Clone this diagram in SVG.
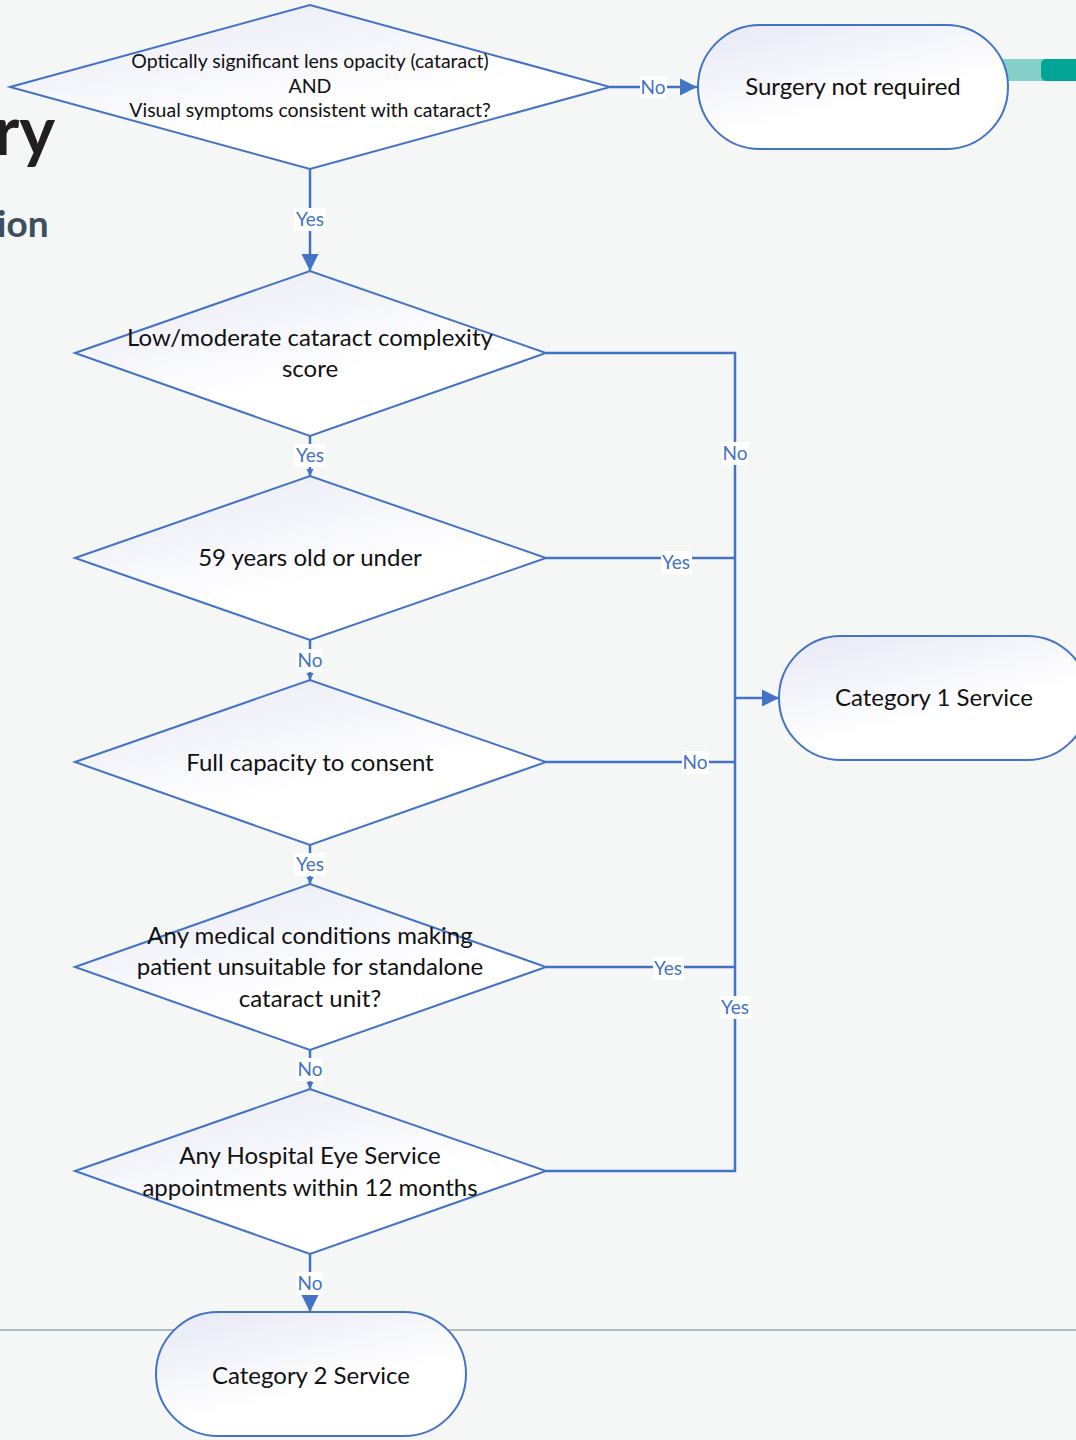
<svg xmlns="http://www.w3.org/2000/svg" width="1076" height="1440" viewBox="0 0 1076 1440">
<style>
.bg{fill:#f5f6f6}
.shape{fill:url(#g);stroke:#4472c4;stroke-width:2}
.t{font-family:Lato,"Liberation Sans",sans-serif;font-size:24px;fill:#111;text-anchor:middle}
.ts{font-family:Lato,"Liberation Sans",sans-serif;font-size:19.5px;fill:#111;text-anchor:middle}
.c{fill:none;stroke:#4472c4;stroke-width:2.5}
.lb{fill:#fff}
.lt{font-family:Lato,"Liberation Sans",sans-serif;font-size:19px;fill:#4472c4;text-anchor:middle}
</style>
<defs>
<linearGradient id="g" x1="0" y1="0" x2="0.6" y2="1">
<stop offset="0" stop-color="#e6e8f5"/>
<stop offset="0.7" stop-color="#ffffff"/>
</linearGradient>
<marker id="ab" viewBox="0 0 10 10" refX="10" refY="5" markerWidth="7" markerHeight="7" orient="auto" markerUnits="strokeWidth">
<path d="M0,0 L10,5 L0,10 z" fill="#4472c4"/>
</marker>
<marker id="as" viewBox="0 0 10 10" refX="10" refY="5" markerWidth="3" markerHeight="3.4" orient="auto" markerUnits="strokeWidth">
<path d="M0,0 L10,5 L0,10 z" fill="#4472c4"/>
</marker>
</defs>
<rect class="bg" x="0" y="0" width="1076" height="1440"/>
<line x1="0" y1="1330" x2="1076" y2="1330" stroke="#9aa6af" stroke-width="1.5"/>
<rect x="1000" y="59" width="50" height="22" fill="#85d1c9"/>
<rect x="1041" y="59" width="45" height="22" rx="5" fill="#00a596"/>
<text x="-6" y="155" font-family="Lato,'Liberation Sans',sans-serif" font-weight="bold" font-size="68" fill="#231f20">ry</text>
<text x="-3" y="237" font-family="Lato,'Liberation Sans',sans-serif" font-weight="bold" font-size="37" fill="#3d4f5c">ion</text>

<g id="connectors">
<path class="c" d="M610,87 H697" marker-end="url(#ab)"/>
<path class="c" d="M310,169 V271" marker-end="url(#ab)"/>
<path class="c" d="M310,436 V476" marker-end="url(#as)"/>
<path class="c" d="M310,640 V680" marker-end="url(#as)"/>
<path class="c" d="M310,845 V884" marker-end="url(#as)"/>
<path class="c" d="M310,1050 V1089" marker-end="url(#as)"/>
<path class="c" d="M310,1254 V1312" marker-end="url(#ab)"/>
<path class="c" d="M546,353 H735 V1171 H546"/>
<path class="c" d="M546,558 H735"/>
<path class="c" d="M546,762 H735"/>
<path class="c" d="M546,967 H735"/>
<path class="c" d="M735,698 H779" marker-end="url(#ab)"/>
<rect class="lb" x="640" y="76" width="27" height="22"/><text class="lt" x="653" y="94">No</text>
<rect class="lb" x="294" y="208" width="32" height="23"/><text class="lt" x="310" y="226">Yes</text>
<rect class="lb" x="294" y="444" width="32" height="23"/><text class="lt" x="310" y="462">Yes</text>
<rect class="lb" x="296" y="649" width="27" height="23"/><text class="lt" x="310" y="667">No</text>
<rect class="lb" x="294" y="853" width="32" height="23"/><text class="lt" x="310" y="871">Yes</text>
<rect class="lb" x="296" y="1058" width="27" height="23"/><text class="lt" x="310" y="1076">No</text>
<rect class="lb" x="296" y="1272" width="27" height="23"/><text class="lt" x="310" y="1290">No</text>
<rect class="lb" x="722" y="442" width="27" height="23"/><text class="lt" x="735" y="460">No</text>
<rect class="lb" x="661" y="551" width="31" height="23"/><text class="lt" x="676" y="569">Yes</text>
<rect class="lb" x="682" y="751" width="27" height="23"/><text class="lt" x="695" y="769">No</text>
<rect class="lb" x="653" y="957" width="31" height="23"/><text class="lt" x="668" y="975">Yes</text>
<rect class="lb" x="720" y="996" width="31" height="23"/><text class="lt" x="735" y="1014">Yes</text>
</g>

<g id="d1">
<polygon class="shape" points="10,87 310,5 610,87 310,169"/>
<text class="ts" x="310" y="68">Optically significant lens opacity (cataract)</text>
<text class="ts" x="310" y="93">AND</text>
<text class="ts" x="310" y="117">Visual symptoms consistent with cataract?</text>
</g>
<g id="d2">
<polygon class="shape" points="75,353 310,271 546,353 310,436"/>
<text class="t" x="310" y="346">Low/moderate cataract complexity</text>
<text class="t" x="310" y="377">score</text>
</g>
<g id="d3">
<polygon class="shape" points="75,558 310,476 546,558 310,640"/>
<text class="t" x="310" y="566">59 years old or under</text>
</g>
<g id="d4">
<polygon class="shape" points="75,762 310,680 546,762 310,845"/>
<text class="t" x="310" y="771">Full capacity to consent</text>
</g>
<g id="d5">
<polygon class="shape" points="75,967 310,884 546,967 310,1050"/>
<text class="t" x="310" y="944">Any medical conditions making</text>
<text class="t" x="310" y="975">patient unsuitable for standalone</text>
<text class="t" x="310" y="1007">cataract unit?</text>
</g>
<g id="d6">
<polygon class="shape" points="75,1171 310,1089 546,1171 310,1254"/>
<text class="t" x="310" y="1164">Any Hospital Eye Service</text>
<text class="t" x="310" y="1196">appointments within 12 months</text>
</g>
<g id="n1">
<rect class="shape" x="698" y="25" width="310" height="124" rx="62"/>
<text class="t" x="853" y="95">Surgery not required</text>
</g>
<g id="n2">
<rect class="shape" x="779" y="636" width="310" height="124" rx="62"/>
<text class="t" x="934" y="706">Category 1 Service</text>
</g>
<g id="n3">
<rect class="shape" x="156" y="1312" width="310" height="124" rx="62"/>
<text class="t" x="311" y="1384">Category 2 Service</text>
</g>
</svg>
